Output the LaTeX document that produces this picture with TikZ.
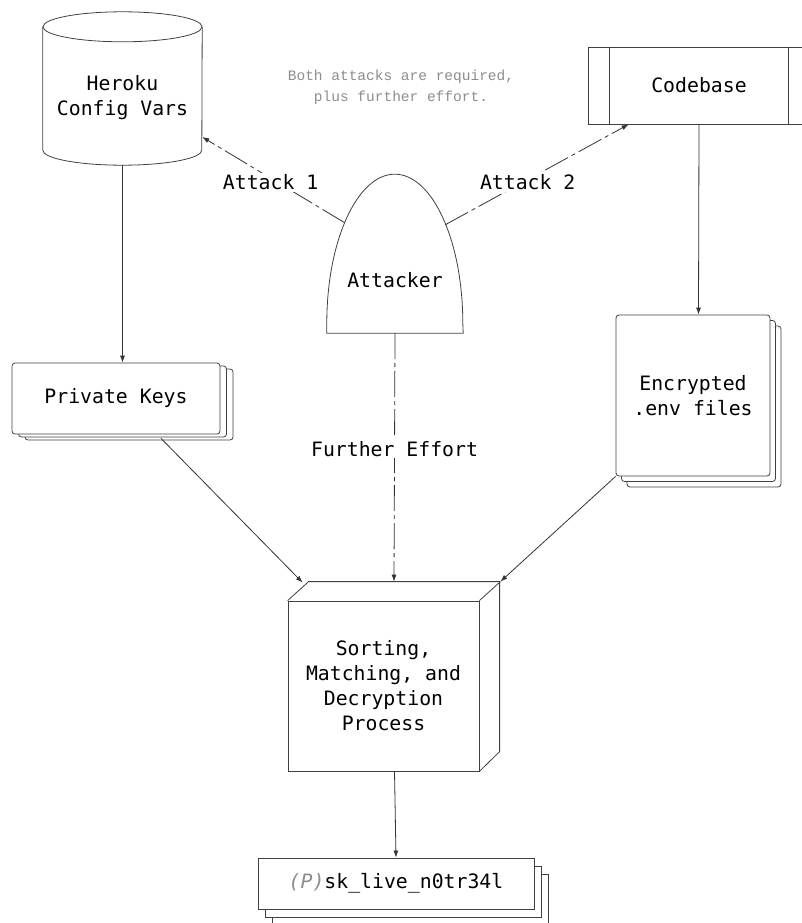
\documentclass[tikz,border=0pt]{standalone}
\usepackage{fontspec}
\setmonofont{DejaVu Sans Mono}
\newfontfamily\notefont{Liberation Mono}
\usepackage{tikz}
\usetikzlibrary{arrows.meta,positioning,shadows}

\begin{document}
\begin{tikzpicture}[x=1pt, y=-1pt,
    every node/.style={font=\ttfamily\fontsize{19.8}{25}\selectfont, text=black},
    box/.style={draw=black!75, line width=0.8pt},
    stack/.style 2 args={box, fill=white, rounded corners=3pt,
        double copy shadow={shadow xshift=#1, shadow yshift=#2, draw=black!75, fill=white, line width=0.8pt}},
    flow/.style={-{Latex[length=7pt,width=5pt]}, black!80, line width=0.8pt},
    attack/.style={flow, dash pattern=on 26pt off 4pt on 4pt off 4pt},
    lbl/.style={fill=white, inner sep=2pt}]
    \useasboundingbox (0,0) rectangle (801,923);
    % note
    \node[align=center, text=black!45, font=\notefont\fontsize{14.5}{21}\selectfont] (note) at (401,87) {Both attacks are required,\\plus further effort.};

    % Heroku cylinder
    \node[minimum width=159pt, minimum height=153pt, inner sep=0pt] (heroku) at (122.5,88.5) {};
    \draw[box] ([yshift=-15pt]heroku.north) ellipse [x radius=79.5pt, y radius=15pt];
    \draw[box] ([yshift=-15pt]heroku.north west) -- ([yshift=15pt]heroku.south west)
        arc[start angle=180, end angle=360, x radius=79.5pt, y radius=15pt] -- ([yshift=-15pt]heroku.north east);
    \node[align=center] (herokutxt) at (122.5,97.5) {Heroku\\Config Vars};

    % codebase
    \node[box, minimum width=222pt, minimum height=77pt] (code) at (699,85.5) {Codebase};
    \draw[box] ([xshift=22pt]code.north west) -- ([xshift=22pt]code.south west);
    \draw[box] ([xshift=-22pt]code.north east) -- ([xshift=-22pt]code.south east);

    % attacker
    \node[minimum width=136pt, minimum height=159pt, inner sep=0pt] (atk) at (395,253.5) {};
    \draw[box] ([yshift=10pt]atk.south west) arc[start angle=180, end angle=0, x radius=68pt, y radius=149pt]
        -- (atk.south east) -- (atk.south west) -- cycle;
    \node (atktxt) at (395,280) {Attacker};

    % stacks
    \node[stack={6.5pt}{-3pt}, minimum width=208pt, minimum height=71pt] (keys) at (116,398.5) {Private Keys};
    \node[stack={5.5pt}{-5.5pt}, align=center, minimum width=154pt, minimum height=161pt] (env) at (693,395.5) {Encrypted\\.env files};
    \node[stack={7pt}{-8pt}, sharp corners, minimum width=276pt, minimum height=51pt] (sk) at (396,883.5) {{\color{black!45}\itshape (P)}sk\_live\_n0tr34l};

    % process cube
    \node[box, align=center, minimum width=191pt, minimum height=170pt] (proc) at (383.5,686) {Sorting,\\Matching, and\\Decryption\\Process};
    \draw[box] (proc.north west) -- ++(21,-19) -- ++(191,0) -- ++(0,170) -- (proc.south east);
    \draw[box] (proc.north east) -- ++(21,-19);

    % connectors
    \draw[flow] (heroku.south) -- ([xshift=6.5pt]keys.north);
    \draw[flow] (code.south) -- ([xshift=5.5pt]env.north);
    \draw[flow] ([xshift=45pt,yshift=-4pt]keys.south) -- ([xshift=15pt,yshift=18pt]proc.north west);
    \draw[flow] (env.south west) -- ([xshift=21pt,yshift=19pt]proc.north east);
    \draw[flow] ([xshift=11pt]proc.south) -- (sk.north);

    % attacks
    \draw[attack] ([xshift=18pt,yshift=-49pt]atk.north west) -- node[lbl, pos=0.52, yshift=-4pt]{Attack 1} ([yshift=-48.5pt]heroku.east);
    \draw[attack] ([xshift=-18pt,yshift=-51pt]atk.north east) -- node[lbl, pos=0.45, yshift=-2.5pt]{Attack 2} ([xshift=41pt]code.south west);
    \draw[attack] (atk.south) -- node[lbl, pos=0.465]{Further Effort} ([xshift=10.5pt,yshift=19pt]proc.north);
\end{tikzpicture}
\end{document}
